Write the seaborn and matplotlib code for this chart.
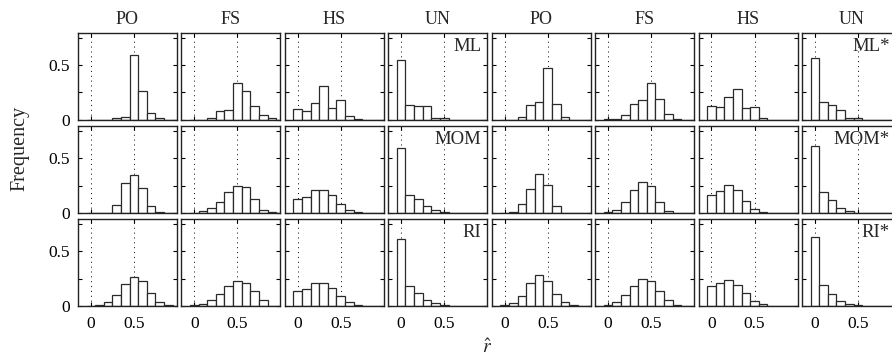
import numpy as np
import pandas as pd
import matplotlib
matplotlib.use("Agg")
import matplotlib.pyplot as plt
import seaborn as sns

# bin centres of the histograms (r-hat)
bin_centers = [0.0, 0.1, 0.2, 0.3, 0.4, 0.5, 0.6, 0.7, 0.8, 0.9, 1.0]
col_titles = ["PO", "FS", "HS", "UN", "PO", "FS", "HS", "UN"]
row_names = ["ML", "MOM", "RI"]

# relative frequencies, one list per panel
po_ml = [0.0, 0.0, 0.0, 0.02, 0.028, 0.59, 0.26, 0.067, 0.02, 0.0, 0.0]
fs_ml = [0.0, 0.003, 0.015, 0.083, 0.092, 0.337, 0.267, 0.123, 0.046, 0.02, 0.0]
hs_ml = [0.098, 0.077, 0.15, 0.313, 0.11, 0.184, 0.034, 0.008, 0.0, 0.0, 0.0]
un_ml = [0.546, 0.135, 0.126, 0.126, 0.015, 0.015, 0.0, 0.0, 0.0, 0.0, 0.0]
po_ml_s = [0.0, 0.0, 0.025, 0.135, 0.166, 0.475, 0.147, 0.025, 0.0, 0.0, 0.0]
fs_ml_s = [0.004, 0.01, 0.043, 0.144, 0.178, 0.34, 0.187, 0.055, 0.006, 0.0, 0.0]
hs_ml_s = [0.129, 0.113, 0.209, 0.279, 0.107, 0.117, 0.015, 0.0, 0.0, 0.0, 0.0]
un_ml_s = [0.561, 0.16, 0.135, 0.089, 0.018, 0.015, 0.0, 0.0, 0.0, 0.0, 0.0]

po_mom = [0.0, 0.0, 0.0, 0.07, 0.27, 0.344, 0.224, 0.067, 0.012, 0.0, 0.0]
fs_mom = [0.003, 0.018, 0.043, 0.10, 0.187, 0.25, 0.233, 0.123, 0.03, 0.008, 0.0]
hs_mom = [0.129, 0.147, 0.209, 0.212, 0.166, 0.086, 0.031, 0.006, 0.0, 0.0, 0.0]
un_mom = [0.589, 0.166, 0.123, 0.067, 0.031, 0.009, 0.0, 0.0, 0.0, 0.0, 0.0]
po_mom_s = [0.0, 0.012, 0.077, 0.221, 0.356, 0.252, 0.067, 0.003, 0.0, 0.0, 0.0]
fs_mom_s = [0.012, 0.031, 0.104, 0.209, 0.279, 0.242, 0.104, 0.018, 0.0, 0.0, 0.0]
hs_mom_s = [0.166, 0.199, 0.252, 0.206, 0.113, 0.04, 0.006, 0.0, 0.0, 0.0, 0.0]
un_mom_s = [0.613, 0.187, 0.12, 0.049, 0.015, 0.0, 0.0, 0.0, 0.0, 0.0, 0.0]

po_ri = [0.001, 0.006, 0.037, 0.104, 0.2, 0.264, 0.224, 0.117, 0.034, 0.006, 0.0]
fs_ri = [0.006, 0.018, 0.052, 0.11, 0.181, 0.23, 0.212, 0.135, 0.052, 0.004, 0.0]
hs_ri = [0.141, 0.153, 0.206, 0.209, 0.16, 0.089, 0.04, 0.012, 0.0, 0.0, 0.0]
un_ri = [0.613, 0.178, 0.117, 0.058, 0.025, 0.006, 0.0, 0.0, 0.0, 0.0, 0.0]
po_ri_s = [0.006, 0.025, 0.095, 0.209, 0.282, 0.23, 0.113, 0.034, 0.006, 0.0, 0.0]
fs_ri_s = [0.012, 0.037, 0.098, 0.184, 0.245, 0.224, 0.135, 0.052, 0.009, 0.0, 0.0]
hs_ri_s = [0.181, 0.206, 0.239, 0.196, 0.117, 0.046, 0.015, 0.0, 0.0, 0.0, 0.0]
un_ri_s = [0.629, 0.19, 0.113, 0.049, 0.015, 0.006, 0.0, 0.0, 0.0, 0.0, 0.0]

panels = [
    [po_ml, fs_ml, hs_ml, un_ml, po_ml_s, fs_ml_s, hs_ml_s, un_ml_s],
    [po_mom, fs_mom, hs_mom, un_mom, po_mom_s, fs_mom_s, hs_mom_s, un_mom_s],
    [po_ri, fs_ri, hs_ri, un_ri, po_ri_s, fs_ri_s, hs_ri_s, un_ri_s],
]

sns.set_theme(style="ticks")
plt.rcParams["font.family"] = ["Liberation Serif", "DejaVu Serif"]
plt.rcParams["mathtext.fontset"] = "stix"

fig, axes = plt.subplots(3, 8, figsize=(8.92, 3.6), dpi=100)
fig.subplots_adjust(left=0.0874, right=1.0101, top=0.9075, bottom=0.15,
                    wspace=0.044, hspace=0.075)

for r in range(3):
    for c in range(8):
        ax = axes[r, c]
        df = pd.DataFrame({"r": bin_centers, "freq": panels[r][c]})
        sns.histplot(data=df, x="r", weights="freq", bins=11,
                     binrange=(-0.05, 1.05), ax=ax, stat="count",
                     facecolor="white", edgecolor="#2a2a2a",
                     linewidth=0.9, alpha=1)
        ax.set_xlim(-0.15, 1.0)
        ax.set_ylim(0, 0.79)
        ax.set_xticks([0, 0.5])
        ax.set_xticklabels(["0", "0.5"])
        ax.set_yticks([0, 0.25, 0.5, 0.75])
        ax.set_yticklabels(["0", "", "0.5", ""])
        ax.set_axisbelow(True)
        ax.grid(axis="x", linestyle=(0, (1, 4)), color="black", linewidth=0.7)
        ax.tick_params(direction="in", top=True, right=True, length=3,
                       width=0.8, labelsize=12.5, colors="black")
        ax.tick_params(axis="x", pad=7)
        ax.tick_params(axis="y", pad=6)
        ax.set_xlabel("")
        ax.set_ylabel("")
        for s in ax.spines.values():
            s.set_linewidth(1.0)
            s.set_color("#222222")
        if c > 0:
            ax.tick_params(labelleft=False)
        if r < 2:
            ax.tick_params(labelbottom=False)
        if r == 0:
            ax.set_title(col_titles[c], fontsize=13, pad=7)
        if c == 3:
            ax.text(0.94, 0.95, row_names[r], transform=ax.transAxes,
                    ha="right", va="top", fontsize=13.5)
        if c == 7:
            # last column runs past the figure edge; keep the label inside
            ax.text(0.885, 0.95, row_names[r] + "*", transform=ax.transAxes,
                    ha="right", va="top", fontsize=13.5)

fig.text(0.022, 0.589, "Frequency", rotation=90, ha="center", va="center", fontsize=14.5)
fig.text(0.546, 0.035, r"$\hat{r}$", ha="center", va="center", fontsize=14)

fig.savefig("out.png", dpi=100)
